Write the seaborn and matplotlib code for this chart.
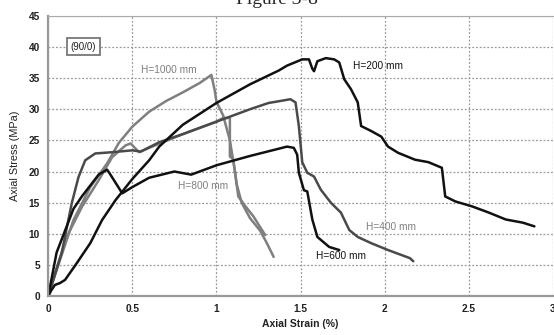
import pandas as pd
import numpy as np
import matplotlib
matplotlib.use("Agg")
import matplotlib.pyplot as plt
import seaborn as sns

# curves (strain %, stress MPa)
h200_x = [0, 0.02, 0.04, 0.07, 0.1, 0.17, 0.25, 0.32, 0.40, 0.50, 0.60, 0.66, 0.80, 1.00, 1.20, 1.37,
          1.42, 1.51, 1.55, 1.57, 1.58, 1.60, 1.65, 1.70, 1.73, 1.76, 1.80, 1.84, 1.86, 1.92, 1.98,
          2.02, 2.08, 2.18, 2.26, 2.34, 2.36, 2.42, 2.52, 2.62, 2.72, 2.82, 2.89]
h200_y = [0, 1.0, 1.8, 2.1, 2.6, 5.3, 8.5, 12.2, 15.4, 18.8, 21.8, 24.0, 27.5, 31.0, 34.0, 36.2,
          37.0, 38.0, 38.0, 36.5, 36.1, 37.7, 38.2, 38.0, 37.5, 34.8, 33.2, 31.1, 27.3, 26.5, 25.6,
          24.0, 23.0, 21.9, 21.5, 20.6, 16.0, 15.2, 14.4, 13.4, 12.3, 11.8, 11.2]

h400_x = [0, 0.04, 0.08, 0.14, 0.18, 0.22, 0.28, 0.38, 0.50, 0.55, 0.66, 0.80, 1.00, 1.20, 1.31,
          1.44, 1.47, 1.49, 1.51, 1.54, 1.58, 1.62, 1.68, 1.74, 1.79, 1.84, 1.92, 2.02, 2.15, 2.17]
h400_y = [0, 3.5, 6.9, 14.9, 19.1, 21.8, 22.9, 23.1, 23.4, 23.2, 24.7, 26.0, 28.0, 30.0, 31.0,
          31.6, 31.1, 27.3, 21.5, 19.8, 19.2, 17.1, 15.0, 13.4, 10.6, 9.5, 8.5, 7.4, 6.1, 5.6]

h600_x = [0, 0.05, 0.1, 0.15, 0.2, 0.3, 0.35, 0.37, 0.44, 0.5, 0.6, 0.75, 0.85, 1.0, 1.2, 1.42,
          1.46, 1.48, 1.49, 1.52, 1.54, 1.57, 1.60, 1.67, 1.73]
h600_y = [0, 7.0, 10.5, 14.0, 16.0, 19.5, 20.3, 19.5, 16.5, 17.5, 19.0, 20.0, 19.5, 21.0, 22.5, 24.0,
          23.8, 22.7, 19.8, 17.0, 16.8, 12.3, 9.5, 7.9, 7.4]

h800_x = [0, 0.05, 0.11, 0.20, 0.30, 0.38, 0.46, 0.49, 0.54, 0.60, 0.80, 1.00, 1.04, 1.08, 1.08,
          1.10, 1.12, 1.15, 1.20, 1.26, 1.30, 1.34]
h800_y = [0, 4.5, 9.5, 14.3, 18.6, 22.3, 24.2, 24.5, 23.1, 23.8, 26.0, 28.0, 28.6, 28.6, 22.4,
          22.0, 18.0, 15.0, 12.5, 10.5, 8.5, 6.3]

h1000_x = [0, 0.07, 0.15, 0.25, 0.35, 0.42, 0.50, 0.60, 0.70, 0.80, 0.90, 0.97, 0.99, 1.00, 1.04,
           1.08, 1.11, 1.13, 1.17, 1.22, 1.25, 1.29]
h1000_y = [0, 5.8, 12.2, 17.5, 21.3, 24.6, 27.2, 29.6, 31.3, 32.7, 34.2, 35.5, 33.0, 31.2, 29.0,
           25.0, 20.0, 16.0, 14.5, 12.8, 11.5, 9.8]

labels = ["H=1000 mm", "H=200 mm", "H=800 mm", "H=400 mm", "H=600 mm"]
label_x = [0.55, 1.81, 0.77, 1.89, 1.59]
label_y = [36.3, 37.0, 17.6, 11.1, 6.5]

gray = "#7f7f7f"
dark = "#4a4a4a"
black = "#111111"

sns.set_style("white")
plt.rcParams['font.family'] = ['Liberation Sans', 'DejaVu Sans']

fig = plt.figure(figsize=(5.54, 3.35), dpi=100)
ax = fig.add_axes([0.087, 0.116, 0.911, 0.837])

curves = [(h1000_x, h1000_y, gray), (h800_x, h800_y, gray), (h400_x, h400_y, dark),
          (h600_x, h600_y, black), (h200_x, h200_y, black)]
for cx, cy, col in curves:
    df = pd.DataFrame({'strain': cx, 'stress': cy})
    sns.lineplot(data=df, x='strain', y='stress', sort=False, estimator=None,
                 color=col, linewidth=1.8, ax=ax)

ax.set_xlim(0, 3)
ax.set_ylim(0, 45)
ax.set_xticks(np.arange(0, 3.01, 0.5))
ax.set_xticklabels(['0', '0.5', '1', '1.5', '2', '2.5', '3'])
ax.set_yticks(np.arange(0, 46, 5))
ax.grid(True, linestyle=(0, (1.5, 1.5)), color='#999999', linewidth=0.9)
ax.tick_params(axis='both', labelsize=7.3, colors='#222222', length=3, width=0.8,
               direction='out', pad=3)
for lab in ax.get_xticklabels() + ax.get_yticklabels():
    lab.set_fontweight('bold')
for s in ['left', 'bottom']:
    ax.spines[s].set_color('#999999')
    ax.spines[s].set_linewidth(1.6)
ax.spines['top'].set_color('#aaaaaa')
ax.spines['top'].set_linewidth(0.8)
ax.spines['right'].set_visible(False)

ax.set_xlabel('Axial Strain (%)', fontsize=7.5, fontweight='bold', color='#222222', labelpad=3)
ax.set_ylabel('Axial Stress (MPa)', fontsize=7.8, color='#222222', labelpad=6)

ax.text(0.21, 40, '(90/0)', fontsize=7, ha='center', va='center', color='#222222',
        bbox=dict(boxstyle='square,pad=0.35', fc='white', ec='#777777', lw=1.3))

label_cols = [gray, black, gray, gray, black]
for t, tx, ty, c in zip(labels, label_x, label_y, label_cols):
    ax.text(tx, ty, t, fontsize=7.3, ha='left', va='center', color=c)

fig.text(0.5, 1.0, 'Figure 3-8', fontsize=14, ha='center', va='center',
         family=['Liberation Serif', 'DejaVu Serif'])

fig.savefig('out.png', dpi=100)
